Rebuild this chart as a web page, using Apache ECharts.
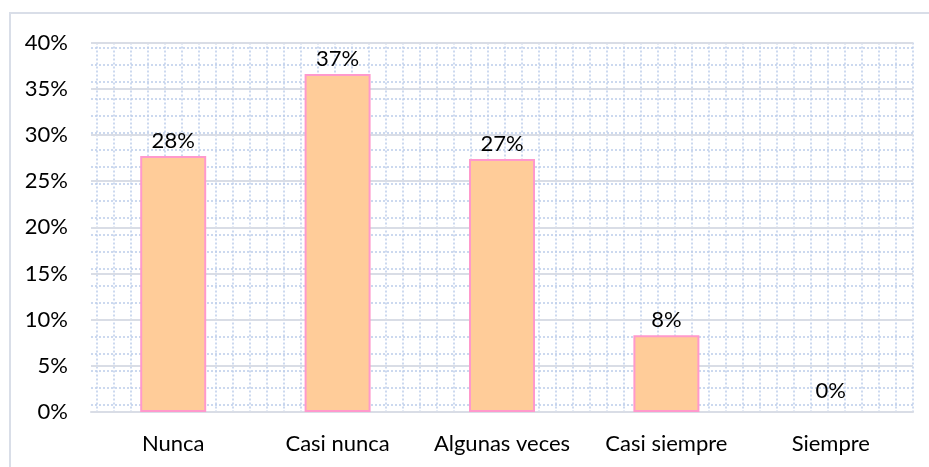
<!DOCTYPE html>
<html>
<head>
<meta charset="utf-8">
<script src="https://cdn.jsdelivr.net/npm/echarts@6/dist/echarts.min.js"></script>
<style>html,body{margin:0;padding:0;background:#fff}#c{width:929px;height:467px}</style>
</head>
<body>
<div id="c"></div>
<script>
const categories = ['Nunca', 'Casi nunca', 'Algunas veces', 'Casi siempre', 'Siempre'];
const values = [27.7, 36.6, 27.4, 8.3, 0];
const yMin = 0, yMax = 40, yStep = 5;

const FONT = 'Lato';
const FS = 22;
const dotted = { type: [2, 2], color: '#BCCDEA', width: 1.5 };
const hiddenAxisParts = { axisLine: { show: false }, axisTick: { show: false }, axisLabel: { show: false } };

const barData = values.map(v => v === 0
  ? { value: v, itemStyle: { borderWidth: 0 }, label: { distance: 10 } }
  : { value: v });

const chart = echarts.init(document.getElementById('c'), null, { renderer: 'canvas' });
chart.setOption({
  backgroundColor: '#fff',
  animation: false,
  graphic: [{
    type: 'rect', z: -10,
    shape: { x: 10, y: 13, width: 940, height: 480 },
    style: { fill: 'none', stroke: '#D9DEE8', lineWidth: 2 }
  }],
  grid: [
    { left: 91, right: 16, top: 42.5, bottom: 55 },
    { left: 97, right: 16, top: 42.5, bottom: 55 },
    { left: 91, right: 16, top: 47.5, bottom: 55 }
  ],
  xAxis: [
    {
      gridIndex: 0, type: 'category', data: categories, z: 2,
      axisLine: { lineStyle: { color: '#D9DDE6', width: 2 } },
      axisTick: { show: false },
      axisLabel: { interval: 0, hideOverlap: false, fontSize: FS, color: '#000', margin: 21, fontFamily: FONT },
      splitLine: { show: false }
    },
    Object.assign({ gridIndex: 1, type: 'value', min: 0, max: 48, interval: 1, z: 0,
      splitLine: { show: true, lineStyle: dotted } }, hiddenAxisParts),
    Object.assign({ gridIndex: 2, type: 'value', min: 0, max: 1, z: 0,
      splitLine: { show: false } }, hiddenAxisParts)
  ],
  yAxis: [
    {
      gridIndex: 0, type: 'value', min: yMin, max: yMax, interval: yStep, z: 1,
      axisLine: { show: false }, axisTick: { show: false },
      axisLabel: { formatter: '{value}%', fontSize: FS, color: '#000', margin: 23, fontFamily: FONT },
      splitLine: { show: true, lineStyle: { color: '#D9DDE6', width: 2 } }
    },
    Object.assign({ gridIndex: 1, type: 'value', min: 0, max: 1, z: 0,
      splitLine: { show: false } }, hiddenAxisParts),
    Object.assign({ gridIndex: 2, type: 'value', inverse: true, min: 0, max: 21.4, interval: 1, z: 0,
      splitLine: { show: true, lineStyle: dotted } }, hiddenAxisParts)
  ],
  series: [{
    type: 'bar', xAxisIndex: 0, yAxisIndex: 0, z: 3,
    data: barData,
    barWidth: 66,
    itemStyle: { color: '#FFCC99', borderColor: '#FF99CC', borderWidth: 2 },
    label: {
      show: true, position: 'top', distance: 4,
      formatter: p => Math.round(p.value) + '%',
      fontSize: FS, color: '#000', fontFamily: FONT
    }
  }]
});
</script>
</body>
</html>
